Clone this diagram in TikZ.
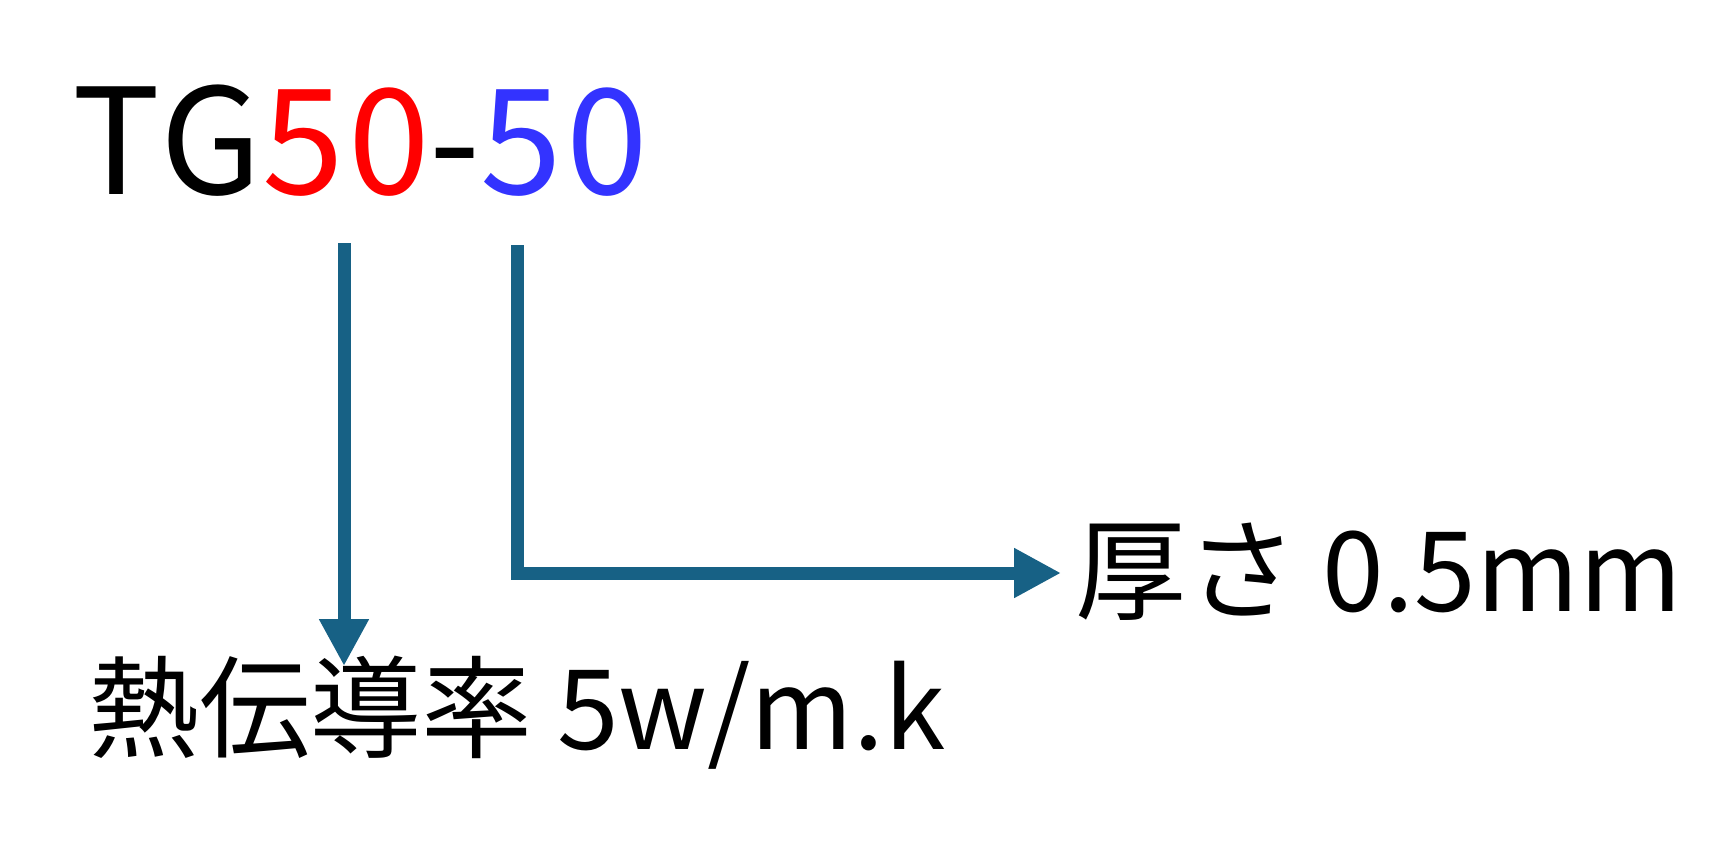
\documentclass[tikz,border=0pt]{standalone}
\usepackage{fontspec}
\setmainfont{Noto Sans CJK JP}
\newfontfamily\codefont[LetterSpace=3]{Noto Sans CJK JP}
\usepackage{xcolor}
\usetikzlibrary{arrows.meta}
\usetikzlibrary{positioning}
\definecolor{arrowblue}{RGB}{23,97,133}
\definecolor{codered}{RGB}{255,0,0}
\definecolor{codeblue}{RGB}{51,51,255}
\tikzset{
flow/.style={draw=arrowblue, line width=6.5pt, -{Triangle[length=23.5pt,width=23.5pt]}},
label/.style={anchor=base west, inner sep=0pt, font=\fontsize{55.5}{60}\selectfont},
}

\begin{document}
\begin{tikzpicture}[x=0.5pt,y=-0.5pt]
            \useasboundingbox (0,0) rectangle (1733,846);
            \node[anchor=base west, inner sep=0pt, font=\codefont\fontsize{73.5}{80}\selectfont] (code) at (72,194)
                {TG\textcolor{codered}{50}-\textcolor{codeblue}{50}};
            \node[label] (conduct) at (88,749) {熱伝導率 5w/m.k};
            \node[label] (thick) at (1075,611) {厚さ 0.5mm};
            \coordinate (src1) at (344,243);
            \coordinate (src2) at (517,245);
            \coordinate (tip1) at (344,666);
            \coordinate (tip2) at (1061,573);
            \draw[flow] (src1) -- (tip1);
            \draw[flow] (src2) |- (tip2);
        \end{tikzpicture}
\end{document}
